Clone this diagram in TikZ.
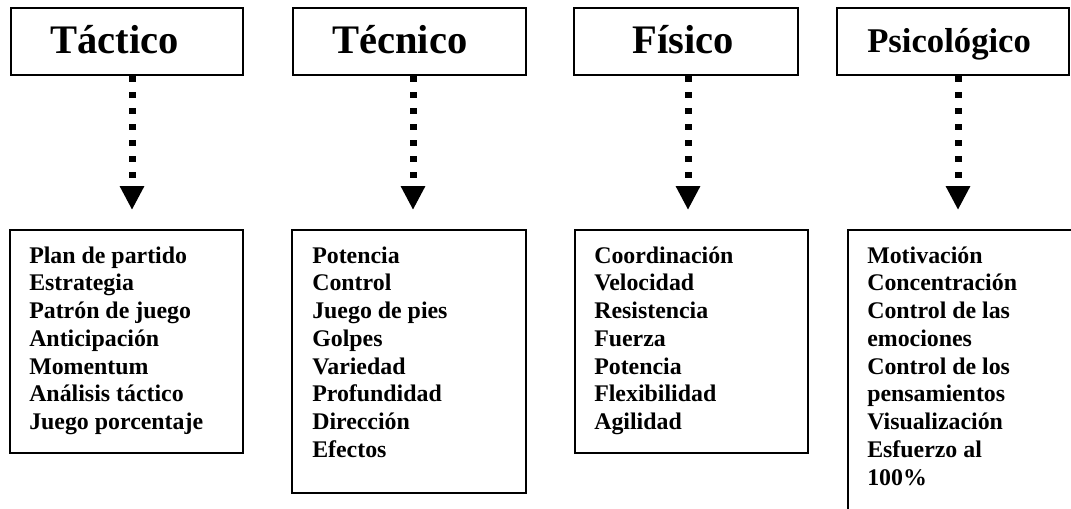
\documentclass[tikz,border=0pt]{standalone}
\usepackage{fontspec}
\setmainfont{Liberation Serif}
\usetikzlibrary{arrows.meta,fit}
\begin{document}
\begin{tikzpicture}[x=0.75pt,y=-0.75pt,
  box/.style={draw, line width=1.5pt, inner sep=0pt},
  title/.style={anchor=base west, inner sep=0pt, font=\fontsize{30.4}{36}\selectfont\bfseries},
  titlesm/.style={anchor=base west, inner sep=0pt, font=\fontsize{26}{31}\selectfont\bfseries},
  list/.style={anchor=north west, inner sep=0pt, align=left, font=\fontsize{17.9}{20.8}\selectfont\bfseries},
  conn/.style={line width=5.25pt, dash pattern=on 4.5pt off 7.5pt, -{Triangle[width=17.25pt,length=18pt]}, shorten >=14.25pt}
]
\useasboundingbox (0,0) rectangle (1071,508);
\clip (0,0) rectangle (1071,508);
\fill[white] (0,0) rectangle (1071,508);

% top boxes
\node[box, fit={(11,8) (243,75)}] (t1) {};
\node[box, fit={(293,8) (526,75)}] (t2) {};
\node[box, fit={(574,8) (798,75)}] (t3) {};
\node[box, fit={(837,8) (1069,75)}] (t4) {};
\node[title] (h1) at (50,53) {Táctico};
\node[title] (h2) at (332,53) {Técnico};
\node[title] (h3) at (632,53) {Físico};
\node[titlesm] (h4) at (867,52) {Psicológico};

% lower boxes
\node[box, fit={(10,230) (243,453)}] (l1) {};
\node[box, fit={(292,230) (526,493)}] (l2) {};
\node[box, fit={(575,230) (808,453)}] (l3) {};
\node[box, fit={(848,230) (1110,560)}] (l4) {};

\node[list] (x1) at (29,244.3) {\rule{0pt}{14pt}Plan de partido\\Estrategia\\Patrón de juego\\Anticipación\\Momentum\\Análisis táctico\\Juego porcentaje};
\node[list] (x2) at (312,244.3) {\rule{0pt}{14pt}Potencia\\Control\\Juego de pies\\Golpes\\Variedad\\Profundidad\\Dirección\\Efectos};
\node[list] (x3) at (594,244.3) {\rule{0pt}{14pt}Coordinación\\Velocidad\\Resistencia\\Fuerza\\Potencia\\Flexibilidad\\Agilidad};
\node[list] (x4) at (867,244.3) {\rule{0pt}{14pt}Motivación\\Concentración\\Control de las\\emociones\\Control de los\\pensamientos\\Visualización\\Esfuerzo al\\100\%};

% connectors
\coordinate (a1) at (132,0);
\coordinate (a2) at (413,0);
\coordinate (a3) at (688,0);
\coordinate (a4) at (958,0);
\draw[conn] (t1.south -| a1) -- (l1.north -| a1);
\draw[conn] (t2.south -| a2) -- (l2.north -| a2);
\draw[conn] (t3.south -| a3) -- (l3.north -| a3);
\draw[conn] (t4.south -| a4) -- (l4.north -| a4);
\end{tikzpicture}
\end{document}
